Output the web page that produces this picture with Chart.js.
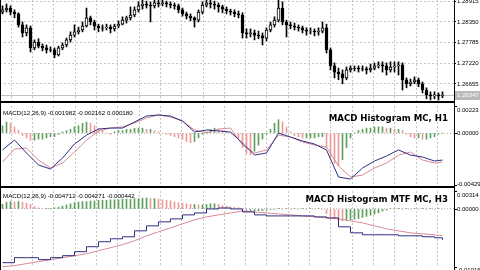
<!DOCTYPE html>
<html>
<head>
<meta charset="utf-8">
<script src="https://cdn.jsdelivr.net/npm/chart.js@4"></script>
<style>
  html, body { margin: 0; padding: 0; background: #fff; width: 480px; height: 270px; overflow: hidden; }
  canvas { display: block; position: absolute; left: 0; }
</style>
</head>
<body>
<canvas id="price" width="480" height="102" style="top:0"></canvas>
<canvas id="macdH1" width="480" height="85" style="top:102px"></canvas>
<canvas id="macdH3" width="480" height="83" style="top:187px"></canvas>
<script>
// price pane (H1 candles)
const opens = [1.2862,1.2868,1.2873,1.2862,1.2857,1.2827,1.2805,1.2819,1.2764,1.2780,
  1.2769,1.2764,1.2759,1.2759,1.2745,1.2764,1.2772,1.2786,1.2799,1.2808,
  1.2813,1.2824,1.2846,1.2835,1.2824,1.2819,1.2819,1.2821,1.2816,1.2824,
  1.2829,1.2840,1.2846,1.2854,1.2868,1.2879,1.2884,1.2881,1.2879,1.2887,
  1.2884,1.2887,1.2884,1.2881,1.2879,1.2868,1.2857,1.2851,1.2846,1.2840,
  1.2862,1.2881,1.2887,1.2884,1.2881,1.2876,1.2870,1.2865,1.2862,1.2857,
  1.2854,1.2805,1.2802,1.2805,1.2799,1.2797,1.2791,1.2813,1.2827,1.2840,
  1.2873,1.2835,1.2827,1.2824,1.2821,1.2819,1.2813,1.2810,1.2810,1.2808,
  1.2810,1.2819,1.2759,1.2715,1.2698,1.2693,1.2682,1.2704,1.2709,1.2709,
  1.2707,1.2707,1.2704,1.2709,1.2715,1.2718,1.2715,1.2704,1.2712,1.2715,
  1.2718,1.2677,1.2666,1.2671,1.2677,1.2666,1.2649,1.2636,1.2633,1.2636,
  1.2633]
const closes = [1.2868,1.2873,1.2862,1.2857,1.2827,1.2805,1.2819,1.2764,1.2780,1.2769,
  1.2764,1.2759,1.2758,1.2745,1.2764,1.2772,1.2786,1.2799,1.2808,1.2813,
  1.2824,1.2846,1.2835,1.2824,1.2819,1.2818,1.2821,1.2816,1.2824,1.2829,
  1.2840,1.2846,1.2854,1.2868,1.2879,1.2884,1.2881,1.2879,1.2887,1.2884,
  1.2887,1.2884,1.2881,1.2879,1.2868,1.2857,1.2851,1.2846,1.2840,1.2862,
  1.2881,1.2887,1.2884,1.2881,1.2876,1.2870,1.2865,1.2862,1.2857,1.2854,
  1.2805,1.2802,1.2805,1.2799,1.2797,1.2791,1.2813,1.2827,1.2840,1.2873,
  1.2835,1.2827,1.2824,1.2821,1.2819,1.2813,1.2810,1.2811,1.2808,1.2810,
  1.2819,1.2759,1.2715,1.2698,1.2693,1.2682,1.2704,1.2709,1.2708,1.2707,
  1.2706,1.2704,1.2709,1.2715,1.2718,1.2715,1.2704,1.2712,1.2715,1.2718,
  1.2677,1.2666,1.2671,1.2677,1.2666,1.2649,1.2636,1.2633,1.2636,1.2633,
  1.2635]
const highs = [1.2879,1.2884,1.2879,1.2868,1.2860,1.2835,1.2827,1.2824,1.2786,1.2789,
  1.2775,1.2772,1.2767,1.2764,1.2769,1.2778,1.2791,1.2808,1.2827,1.2821,
  1.2835,1.2873,1.2851,1.2840,1.2829,1.2827,1.2829,1.2827,1.2829,1.2838,
  1.2849,1.2851,1.2876,1.2876,1.2890,1.2895,1.2892,1.2890,1.2895,1.2895,
  1.2895,1.2892,1.2890,1.2887,1.2884,1.2873,1.2862,1.2857,1.2849,1.2868,
  1.2890,1.2895,1.2895,1.2892,1.2887,1.2881,1.2876,1.2870,1.2868,1.2865,
  1.2860,1.2816,1.2816,1.2813,1.2810,1.2805,1.2819,1.2835,1.2849,1.2895,
  1.2890,1.2840,1.2835,1.2832,1.2827,1.2824,1.2819,1.2819,1.2816,1.2819,
  1.2835,1.2829,1.2764,1.2723,1.2709,1.2704,1.2712,1.2715,1.2715,1.2715,
  1.2715,1.2712,1.2720,1.2723,1.2726,1.2726,1.2723,1.2726,1.2726,1.2726,
  1.2723,1.2682,1.2679,1.2685,1.2682,1.2671,1.2655,1.2644,1.2644,1.2641,
  1.2644]
const lows = [1.2857,1.2862,1.2854,1.2846,1.2821,1.2794,1.2797,1.2753,1.2759,1.2764,
  1.2756,1.2750,1.2753,1.2737,1.2742,1.2759,1.2767,1.2780,1.2794,1.2802,
  1.2808,1.2821,1.2827,1.2813,1.2808,1.2810,1.2813,1.2805,1.2810,1.2819,
  1.2827,1.2832,1.2840,1.2849,1.2862,1.2870,1.2873,1.2835,1.2873,1.2876,
  1.2879,1.2876,1.2873,1.2870,1.2860,1.2851,1.2843,1.2838,1.2821,1.2835,
  1.2857,1.2876,1.2873,1.2870,1.2862,1.2860,1.2857,1.2854,1.2849,1.2846,
  1.2791,1.2791,1.2794,1.2786,1.2789,1.2772,1.2783,1.2808,1.2821,1.2835,
  1.2827,1.2794,1.2816,1.2813,1.2810,1.2805,1.2799,1.2802,1.2797,1.2799,
  1.2805,1.2750,1.2704,1.2682,1.2677,1.2666,1.2677,1.2698,1.2701,1.2698,
  1.2701,1.2693,1.2698,1.2704,1.2709,1.2698,1.2690,1.2698,1.2698,1.2690,
  1.2649,1.2655,1.2660,1.2666,1.2658,1.2641,1.2625,1.2622,1.2625,1.2622,
  1.2628]
const priceTicks = [1.28915, 1.28350, 1.27785, 1.27220, 1.26655]
const bidPrice = 1.26347

// MACD Histogram MC, H1
const histH1 = [0.0006,0.0009,0.0008,0.0005,0.0002,-0.0002,-0.0004,-0.0006,-0.0006,-0.0005,
  -0.0005,-0.0004,-0.0003,-0.0003,-0.0001,0.0001,0.0002,0.0003,0.0005,0.0006,
  0.0008,0.0009,0.0008,0.0006,0.0004,0.0002,0.0000,-0.0001,0.0001,0.0002,
  0.0002,0.0003,0.0003,0.0004,0.0004,0.0004,0.0003,0.0003,0.0002,0.0001,
  0.0000,-0.0001,-0.0002,-0.0003,-0.0004,-0.0005,-0.0007,-0.0008,-0.0007,-0.0004,
  -0.0001,0.0001,0.0003,0.0004,0.0003,0.0002,0.0001,0.0000,-0.0002,-0.0004,
  -0.0012,-0.0017,-0.0018,-0.0015,-0.0010,-0.0005,-0.0001,0.0003,0.0008,0.0011,
  0.0009,0.0005,0.0001,-0.0002,-0.0003,-0.0004,-0.0004,-0.0004,-0.0004,-0.0003,
  -0.0003,-0.0012,-0.0020,-0.0025,-0.0027,-0.0022,-0.0012,-0.0004,0.0000,0.0002,
  0.0003,0.0004,0.0004,0.0005,0.0005,0.0005,0.0004,0.0004,0.0003,0.0003,
  0.0002,-0.0001,-0.0003,-0.0004,-0.0004,-0.0005,-0.0005,-0.0004,-0.0003,-0.0001,
  0.0000]
// lines are sampled every 3rd bar
const lineBars = [0,3,6,9,12,15,18,21,24,27,30,33,36,39,42,45,48,51,54,57,
  60,63,66,69,72,75,78,81,84,87,90,93,96,99,102,105,108,110]
const macdH1 = [-0.00140,-0.00058,-0.00165,-0.00264,-0.00297,-0.00206,-0.00091,-0.00017,0.00033,0.00041,
  0.00041,0.00091,0.00140,0.00149,0.00140,0.00099,0.00008,0.00025,0.00017,0.00008,
  -0.00083,-0.00182,-0.00165,0.00000,-0.00033,-0.00066,-0.00091,-0.00140,-0.00363,-0.00380,
  -0.00289,-0.00231,-0.00190,-0.00140,-0.00182,-0.00198,-0.00231,-0.00223]
const signalH1 = [-0.00239,-0.00132,-0.00124,-0.00223,-0.00289,-0.00248,-0.00157,-0.00058,0.00017,0.00041,
  0.00050,0.00083,0.00124,0.00149,0.00132,0.00099,0.00025,0.00000,0.00033,0.00041,
  -0.00099,-0.00165,-0.00140,-0.00017,-0.00033,-0.00074,-0.00099,-0.00116,-0.00272,-0.00363,
  -0.00347,-0.00289,-0.00248,-0.00182,-0.00157,-0.00223,-0.00248,-0.00239]

// MACD Histogram MTF MC, H3
const histH3 = [0.0008,0.0012,0.0013,0.0012,0.0013,0.0012,0.0010,0.0008,0.0004,0.0002,
  0.0001,0.0001,0.0001,0.0002,0.0003,0.0005,0.0007,0.0009,0.0011,0.0012,
  0.0013,0.0013,0.0014,0.0014,0.0015,0.0015,0.0015,0.0016,0.0016,0.0016,
  0.0017,0.0017,0.0017,0.0018,0.0018,0.0019,0.0019,0.0018,0.0018,0.0017,
  0.0016,0.0015,0.0014,0.0012,0.0011,0.0010,0.0009,0.0008,0.0008,0.0007,
  0.0007,0.0008,0.0009,0.0009,0.0008,0.0006,0.0005,0.0004,0.0003,0.0002,
  -0.0003,-0.0004,-0.0004,-0.0004,-0.0003,-0.0003,-0.0002,-0.0001,-0.0001,0.0001,
  -0.0001,0.0001,-0.0001,0.0001,-0.0001,0.0001,-0.0001,0.0001,-0.0001,0.0001,
  -0.0001,-0.0008,-0.0013,-0.0017,-0.0020,-0.0021,-0.0020,-0.0019,-0.0018,-0.0017,
  -0.0015,-0.0013,-0.0011,-0.0009,-0.0007,-0.0004,-0.0002,0.0001,-0.0001,0.0001,
  -0.0001,0.0001,-0.0001,0.0001,-0.0001,0.0001,-0.0001,0.0001,-0.0001,0.0001,
  -0.0001]
const macdH3 = [-0.00940,-0.00853,-0.00853,-0.00887,-0.00853,-0.00818,-0.00748,-0.00661,-0.00574,-0.00522,
  -0.00487,-0.00383,-0.00296,-0.00226,-0.00174,-0.00104,-0.00070,0.00000,0.00017,0.00000,
  -0.00052,-0.00104,-0.00122,-0.00122,-0.00122,-0.00122,-0.00139,-0.00157,-0.00313,-0.00418,
  -0.00452,-0.00452,-0.00452,-0.00470,-0.00470,-0.00487,-0.00505,-0.00539]
const signalH3 = [-0.01010,-0.00992,-0.00957,-0.00922,-0.00887,-0.00853,-0.00818,-0.00783,-0.00731,-0.00679,
  -0.00626,-0.00557,-0.00470,-0.00400,-0.00331,-0.00261,-0.00191,-0.00139,-0.00104,-0.00070,
  -0.00035,-0.00052,-0.00070,-0.00087,-0.00104,-0.00122,-0.00139,-0.00157,-0.00174,-0.00209,
  -0.00244,-0.00296,-0.00348,-0.00383,-0.00418,-0.00435,-0.00452,-0.00470]

const GRID = '#c6c6c6'
const GREEN = '#5f9f5f'
const PINK = '#eb9a9a'
const NAVY = '#2e2e82'
const ROSE = '#d98898'
const AXIS_FONT = '6px "Liberation Sans"'

// bar centre sits on a half pixel so 1px bars stay crisp
const xOf = i => i + 0.625
const gridBars = []
for (let k = 0; k < 21; k++) gridBars.push((22 + 21.3 * k) / 4)

const xScale = () => ({
  type: 'linear', min: 0, max: 113.5, offset: false,
  afterBuildTicks: s => { s.ticks = gridBars.map(v => ({ value: v })) },
  ticks: { display: false },
  grid: { color: GRID, drawTicks: false },
  border: { display: false, dash: [2, 2] },
  afterFit: s => { s.height = 0; s.paddingLeft = 0; s.paddingRight = 0 }
})

const decor = {
  id: 'decor',
  beforeDatasetsDraw(chart, args, o) {
    if (!o.bid) return
    const { ctx, chartArea: a } = chart
    const y = Math.round(chart.scales.y.getPixelForValue(o.bid)) + 0.5
    ctx.save()
    ctx.strokeStyle = '#c0c0c0'
    ctx.lineWidth = 1
    ctx.beginPath(); ctx.moveTo(a.left, y); ctx.lineTo(a.right, y); ctx.stroke()
    ctx.restore()
  },
  afterDraw(chart, args, o) {
    const { ctx, chartArea: a, height } = chart
    const ys = chart.scales.y
    ctx.save()
    // pane frame
    ctx.strokeStyle = '#000'
    ctx.lineWidth = 1
    ctx.beginPath()
    ctx.moveTo(0.5, 0); ctx.lineTo(0.5, height)
    ctx.moveTo(a.right + 0.5, 0); ctx.lineTo(a.right + 0.5, height)
    if (o.top) { ctx.moveTo(0, 0.5); ctx.lineTo(a.right, 0.5) }
    if (o.bottom) { ctx.moveTo(0, height - 0.5); ctx.lineTo(a.right, height - 0.5) }
    ctx.stroke()
    // scale labels of indicator panes
    ctx.font = AXIS_FONT
    ctx.fillStyle = '#000'
    ctx.textBaseline = 'middle'
    ctx.textAlign = 'left'
    ;(o.labels || []).forEach(l => {
      ctx.fillText(l.v.toFixed(5), a.right + 3, ys.getPixelForValue(l.v) + l.dy)
      ctx.fillRect(a.right + 1, Math.round(ys.getPixelForValue(l.v)), 2, 1)
    })
    // last price box
    if (o.bid) {
      const y = Math.round(ys.getPixelForValue(o.bid))
      ctx.fillStyle = '#b9b9b9'
      ctx.fillRect(a.right + 1, y - 4, 25, 9)
      ctx.fillStyle = '#fff'
      ctx.fillText(o.bid.toFixed(5), a.right + 3, y + 0.5)
    }
    // captions
    ctx.textBaseline = 'alphabetic'
    ;(o.texts || []).forEach(t => {
      ctx.font = t.font
      ctx.textAlign = t.align
      ctx.fillStyle = '#000'
      ctx.fillText(t.t, t.x, t.y)
    })
    ctx.restore()
  }
}
Chart.register(decor)

const base = (padTop, padBottom, decorOpts, yScale) => ({
  responsive: false, animation: false, devicePixelRatio: 1, events: [],
  layout: { padding: { top: padTop, bottom: padBottom, left: 0, right: 0 } },
  plugins: { legend: { display: false }, tooltip: { enabled: false }, decor: decorOpts },
  scales: { x: xScale(), y: yScale }
})

const indicatorY = (min, max) => ({
  position: 'right', min: min, max: max,
  afterBuildTicks: s => { s.ticks = [{ value: min }, { value: 0 }, { value: max }] },
  ticks: { display: false },
  grid: { color: c => (c.tick && c.tick.value === 0) ? '#b4b4b4' : 'rgba(0,0,0,0)', drawTicks: false },
  border: { display: false, dash: [1, 2] },
  afterFit: s => { s.width = 26; s.paddingTop = 0; s.paddingBottom = 0 }
})

const histColors = h => h.map((v, i) => (i === 0 || v >= h[i - 1]) ? GREEN : PINK)
const linePts = vals => vals.map((v, k) => ({ x: xOf(lineBars[k]), y: v }))
const lineSet = (vals, color, stepped) => ({
  type: 'line', data: linePts(vals), borderColor: color, borderWidth: 1,
  pointRadius: 0, tension: 0, stepped: stepped
})
const histSet = h => ({
  type: 'bar', data: h.map((v, i) => ({ x: xOf(i), y: v })),
  backgroundColor: histColors(h), barThickness: 1, grouped: false
})

// price pane
new Chart(document.getElementById('price'), {
  type: 'bar',
  data: {
    datasets: [{
      data: opens.map((o, i) => ({ x: xOf(i), y: [o, closes[i]] })),
      backgroundColor: opens.map((o, i) => closes[i] >= o ? '#fff' : '#000'),
      borderColor: '#000', borderWidth: 1, borderSkipped: false,
      barThickness: 3, grouped: false
    }, {
      data: lows.map((l, i) => ({ x: xOf(i), y: [l, highs[i]] })),
      backgroundColor: '#000', barThickness: 1, grouped: false
    }]
  },
  options: base(0, 1, { bottom: true, bid: bidPrice }, {
    position: 'right', min: 1.2619, max: 1.2895,
    afterBuildTicks: s => { s.ticks = priceTicks.map(v => ({ value: v })) },
    ticks: { font: { family: 'Liberation Sans', size: 6 }, color: '#000', padding: 1, callback: v => v.toFixed(5) },
    grid: { color: GRID, tickLength: 2, tickColor: '#000', tickBorderDash: [] },
    border: { display: false, dash: [2, 2] },
    afterFit: s => { s.width = 26; s.paddingTop = 0; s.paddingBottom = 0 }
  })
})

// H1 histogram pane
new Chart(document.getElementById('macdH1'), {
  type: 'bar',
  data: { datasets: [lineSet(macdH1, NAVY, false), lineSet(signalH1, ROSE, false), histSet(histH1)] },
  options: base(4, 2, {
    top: true, bottom: true,
    labels: [{ v: 0.00223, dy: 4 }, { v: 0, dy: 0 }, { v: -0.00429, dy: -1 }],
    texts: [
      { t: 'MACD(12,26,9) -0.001982 -0.002162 0.000180', x: 3, y: 13, font: '6.2px "Liberation Sans"', align: 'left' },
      { t: 'MACD Histogram MC, H1', x: 448, y: 19, font: 'bold 8.6px "DejaVu Sans"', align: 'right' }
    ]
  }, indicatorY(-0.00429, 0.00223))
})

// H3 multi-timeframe pane
new Chart(document.getElementById('macdH3'), {
  type: 'bar',
  data: { datasets: [lineSet(macdH3, NAVY, 'before'), lineSet(signalH3, ROSE, false), histSet(histH3)] },
  options: base(4, 3, {
    top: true,
    labels: [{ v: 0.00314, dy: 4 }, { v: 0, dy: 0 }, { v: -0.01016, dy: 3 }],
    texts: [
      { t: 'MACD(12,26,9) -0.004712 -0.004271 -0.000442', x: 3, y: 11, font: '6.2px "Liberation Sans"', align: 'left' },
      { t: 'MACD Histogram MTF MC, H3', x: 448, y: 15, font: 'bold 8.6px "DejaVu Sans"', align: 'right' }
    ]
  }, indicatorY(-0.01016, 0.00314))
})
</script>
</body>
</html>
